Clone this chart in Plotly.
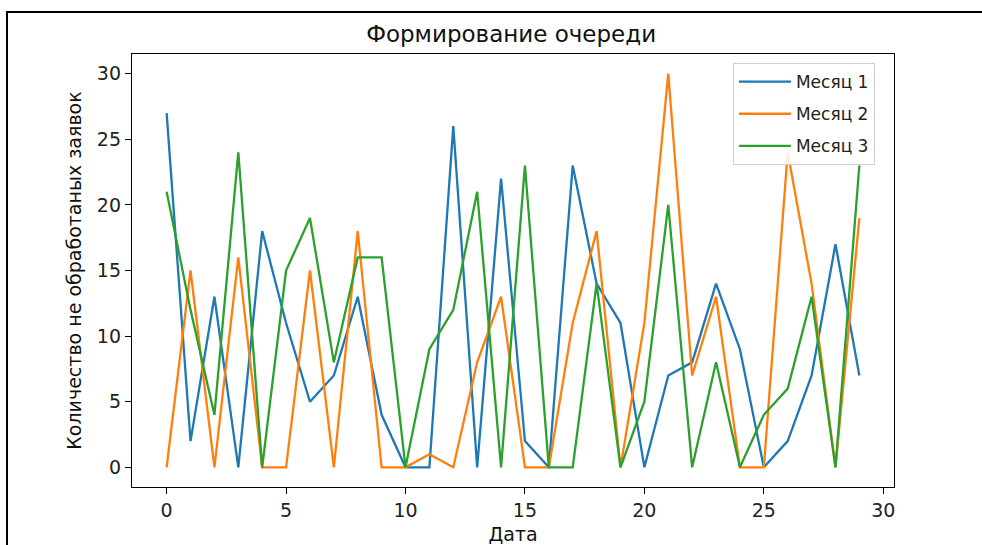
import plotly.graph_objects as go

days = list(range(30))
month1 = [27, 2, 13, 0, 18, 11, 5, 7, 13, 4, 0, 0, 26, 0, 22, 2, 0, 23, 14, 11,
          0, 7, 8, 14, 9, 0, 2, 7, 17, 7]
month2 = [0, 15, 0, 16, 0, 0, 15, 0, 18, 0, 0, 1, 0, 8, 13, 0, 0, 11, 18, 0,
          11, 30, 7, 13, 0, 0, 24, 14, 0, 19]
month3 = [21, 12, 4, 24, 0, 15, 19, 8, 16, 16, 0, 9, 12, 21, 0, 23, 0, 0, 14, 0,
          5, 20, 0, 8, 0, 4, 6, 13, 0, 23]
series_names = ["Месяц 1", "Месяц 2", "Месяц 3"]
colors = ["#1f77b4", "#ff7f0e", "#2ca02c"]
x_ticks = [0, 5, 10, 15, 20, 25, 30]
y_ticks = [0, 5, 10, 15, 20, 25, 30]

font = "DejaVu Sans"
fig = go.Figure()
for i, (name, vals, c) in enumerate(zip(series_names, [month1, month2, month3], colors)):
    fig.add_trace(go.Scatter(x=days, y=vals, mode="lines", name=name,
                             legendgroup="g%d" % i,
                             line=dict(color=c, width=2.3)))

axis_common = dict(showline=True, linecolor="black", linewidth=1.3, mirror=True,
                   ticks="outside", ticklen=6, tickwidth=1.2, tickcolor="black",
                   showgrid=False, zeroline=False, automargin=False,
                   tickfont=dict(family=font, size=19, color="#222"))

fig.update_layout(
    width=982, height=545,
    margin=dict(l=132, r=88, t=54, b=58, autoexpand=False),
    paper_bgcolor="white", plot_bgcolor="white",
    title=dict(text="Формирование очереди", x=0.5205,
               xanchor="center", y=1 - 34 / 545, yanchor="middle",
               font=dict(family=font, size=23, color="#111")),
    xaxis=dict(range=[-1.45, 30.45], tickvals=x_ticks,
               title=dict(text="Дата", font=dict(family=font, size=19, color="#111"),
                          standoff=14),
               **axis_common),
    yaxis=dict(range=[-1.5, 31.5], tickvals=y_ticks,
               title=dict(text="Количество не обработаных заявок",
                          font=dict(family=font, size=19, color="#111"), standoff=10),
               **axis_common),
    legend=dict(x=0.975, xanchor="right", y=0.979, yanchor="top",
                bgcolor="rgba(255,255,255,0.85)", bordercolor="#d0d0d0", borderwidth=1,
                font=dict(family=font, size=17, color="#222"),
                tracegroupgap=7, itemwidth=52),
    showlegend=True,
)

# outer screenshot frame
fig.add_shape(type="line", xref="paper", yref="paper",
              x0=-126 / 762, x1=(982 - 132) / 762, y0=1 + 42 / 433, y1=1 + 42 / 433,
              line=dict(color="black", width=2))
fig.add_shape(type="line", xref="paper", yref="paper",
              x0=-125 / 762, x1=-125 / 762, y0=1 + 42 / 433, y1=-58 / 433,
              line=dict(color="black", width=2))

fig.write_html("out.html")
